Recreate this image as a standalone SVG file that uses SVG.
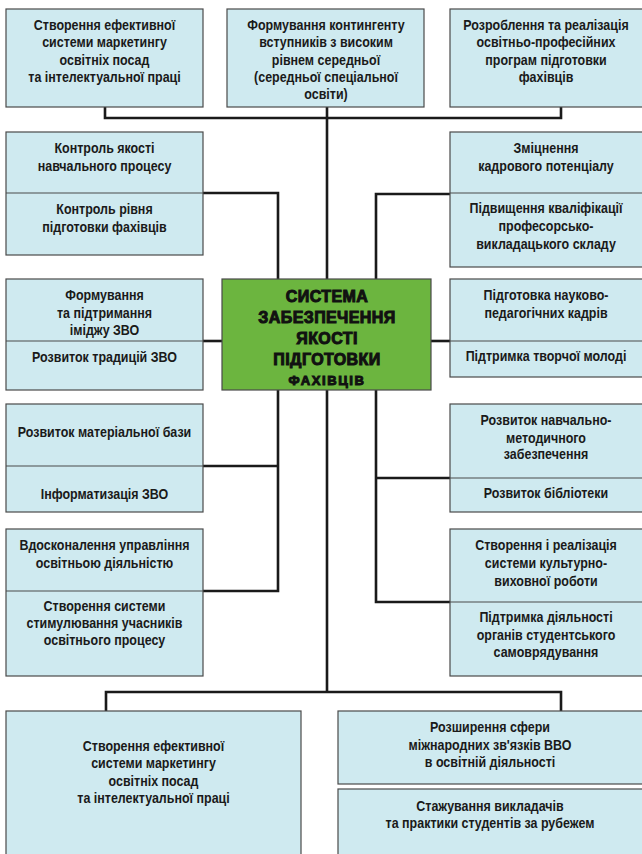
<svg xmlns="http://www.w3.org/2000/svg" width="642" height="854" viewBox="0 0 642 854">
<style>
.box{fill:#cfeaf0;stroke:#4a4a4a;stroke-width:1.2}
.div{stroke:#4a4a4a;stroke-width:1.2;fill:none}
.t{font-family:"Liberation Sans",Arial,sans-serif;font-weight:bold;font-size:14px;fill:#1a1a1a;text-anchor:middle}
.c{fill:none;stroke:#1a1a1a;stroke-width:2.6;stroke-linejoin:miter}
.core{fill:#6cb53f;stroke:#4a4a4a;stroke-width:1.2}
.ct{font-family:"Liberation Sans",Arial,sans-serif;font-weight:bold;font-size:16px;fill:#111;stroke:#111;stroke-width:1;text-anchor:middle;letter-spacing:0.4px}
</style>
<defs>
<clipPath id="coreclip"><rect x="222" y="279" width="209" height="110"/></clipPath>
</defs>
<g id="connectors">
<path class="c" d="M105 107V118H561V107"/>
<path class="c" d="M327 107V279"/>
<path class="c" d="M203 193H278V279"/>
<path class="c" d="M450 194H376V279"/>
<path class="c" d="M203 341H222"/>
<path class="c" d="M431 341H450"/>
<path class="c" d="M278 390V591H203"/>
<path class="c" d="M203 466H278"/>
<path class="c" d="M376 390V602H450"/>
<path class="c" d="M450 478H376"/>
<path class="c" d="M327 390V692"/>
<path class="c" d="M106 711V692H561V711"/>
</g>
<g id="top1">
<rect class="box" x="6" y="9" width="197" height="98"/>
<g transform="translate(104.5 0) scale(0.89 1)"><text class="t"><tspan x="0" y="30">Створення ефективної</tspan><tspan x="0" y="47.3">системи маркетингу</tspan><tspan x="0" y="64.6">освітніх посад</tspan><tspan x="0" y="82">та інтелектуальної праці</tspan></text></g>
</g>
<g id="top2">
<rect class="box" x="227" y="9" width="197" height="98"/>
<g transform="translate(326 0) scale(0.89 1)"><text class="t"><tspan x="0" y="30">Формування контингенту</tspan><tspan x="0" y="47.3">вступників з високим</tspan><tspan x="0" y="64.6">рівнем середньої</tspan><tspan x="0" y="82">(середньої спеціальної</tspan><tspan x="0" y="99">освіти)</tspan></text></g>
</g>
<g id="top3">
<rect class="box" x="450" y="9" width="196" height="98"/>
<g transform="translate(546 0) scale(0.89 1)"><text class="t"><tspan x="0" y="30">Розроблення та реалізація</tspan><tspan x="0" y="47.3">освітньо-професійних</tspan><tspan x="0" y="64.6">програм підготовки</tspan><tspan x="0" y="82">фахівців</tspan></text></g>
</g>
<g id="left1">
<rect class="box" x="6" y="132" width="197" height="123"/>
<path class="div" d="M6 193H203"/>
<g transform="translate(104.5 0) scale(0.89 1)"><text class="t"><tspan x="0" y="153">Контроль якості</tspan><tspan x="0" y="171">навчального процесу</tspan></text>
<text class="t"><tspan x="0" y="214">Контроль рівня</tspan><tspan x="0" y="232">підготовки фахівців</tspan></text></g>
</g>
<g id="right1">
<rect class="box" x="450" y="132" width="196" height="135"/>
<path class="div" d="M450 193H642"/>
<g transform="translate(546 0) scale(0.89 1)"><text class="t"><tspan x="0" y="153">Зміцнення</tspan><tspan x="0" y="171.5">кадрового потенціалу</tspan></text>
<text class="t"><tspan x="0" y="213">Підвищення кваліфікації</tspan><tspan x="0" y="231">професорсько-</tspan><tspan x="0" y="249">викладацького складу</tspan></text></g>
</g>
<g id="left2">
<rect class="box" x="6" y="279" width="197" height="111"/>
<path class="div" d="M6 341H203"/>
<g transform="translate(104.5 0) scale(0.89 1)"><text class="t"><tspan x="0" y="300">Формування</tspan><tspan x="0" y="318">та підтримання</tspan><tspan x="0" y="335">іміджу ЗВО</tspan></text>
<text class="t"><tspan x="0" y="362">Розвиток традицій ЗВО</tspan></text></g>
</g>
<g id="core">
<rect class="core" x="222" y="279" width="209" height="111"/>
<g clip-path="url(#coreclip)">
<text class="ct"><tspan x="327" y="302">СИСТЕМА</tspan><tspan x="327" y="323">ЗАБЕЗПЕЧЕННЯ</tspan><tspan x="327" y="344">ЯКОСТІ</tspan><tspan x="327" y="365">ПІДГОТОВКИ</tspan><tspan x="327" y="385" style="font-size:13px;letter-spacing:1.6px">ФАХІВЦІВ</tspan></text>
</g>
</g>
<g id="right2">
<rect class="box" x="450" y="279" width="196" height="98"/>
<path class="div" d="M450 341H642"/>
<g transform="translate(546 0) scale(0.89 1)"><text class="t"><tspan x="0" y="300">Підготовка науково-</tspan><tspan x="0" y="318">педагогічних кадрів</tspan></text>
<text class="t"><tspan x="0" y="361">Підтримка творчої молоді</tspan></text></g>
</g>
<g id="left3">
<rect class="box" x="6" y="404" width="197" height="108"/>
<path class="div" d="M6 466H203"/>
<g transform="translate(104.5 0) scale(0.89 1)"><text class="t"><tspan x="0" y="437">Розвиток матеріальної бази</tspan></text>
<text class="t"><tspan x="0" y="499">Інформатизація ЗВО</tspan></text></g>
</g>
<g id="right3">
<rect class="box" x="450" y="404" width="196" height="108"/>
<path class="div" d="M450 478H642"/>
<g transform="translate(546 0) scale(0.89 1)"><text class="t"><tspan x="0" y="425">Розвиток навчально-</tspan><tspan x="0" y="443">методичного</tspan><tspan x="0" y="459">забезпечення</tspan></text>
<text class="t"><tspan x="0" y="498">Розвиток бібліотеки</tspan></text></g>
</g>
<g id="left4">
<rect class="box" x="6" y="529" width="197" height="147"/>
<path class="div" d="M6 591H203"/>
<g transform="translate(104.5 0) scale(0.89 1)"><text class="t"><tspan x="0" y="550">Вдосконалення управління</tspan><tspan x="0" y="568">освітньою діяльністю</tspan></text>
<text class="t"><tspan x="0" y="611">Створення системи</tspan><tspan x="0" y="628">стимулювання учасників</tspan><tspan x="0" y="645">освітнього процесу</tspan></text></g>
</g>
<g id="right4">
<rect class="box" x="450" y="529" width="196" height="147"/>
<path class="div" d="M450 602H642"/>
<g transform="translate(546 0) scale(0.89 1)"><text class="t"><tspan x="0" y="550">Створення і реалізація</tspan><tspan x="0" y="568">системи культурно-</tspan><tspan x="0" y="586">виховної роботи</tspan></text>
<text class="t"><tspan x="0" y="622">Підтримка діяльності</tspan><tspan x="0" y="640">органів студентського</tspan><tspan x="0" y="657">самоврядування</tspan></text></g>
</g>
<g id="bottom1">
<rect class="box" x="6" y="711" width="295" height="150"/>
<g transform="translate(153.5 0) scale(0.89 1)"><text class="t"><tspan x="0" y="751">Створення ефективної</tspan><tspan x="0" y="768.5">системи маркетингу</tspan><tspan x="0" y="786">освітніх посад</tspan><tspan x="0" y="803">та інтелектуальної праці</tspan></text></g>
</g>
<g id="bottom2">
<rect class="box" x="338" y="711" width="308" height="73"/>
<g transform="translate(490 0) scale(0.89 1)"><text class="t"><tspan x="0" y="732">Розширення сфери</tspan><tspan x="0" y="750">міжнародних зв'язків ВВО</tspan><tspan x="0" y="767.5">в освітній діяльності</tspan></text></g>
</g>
<g id="bottom3">
<rect class="box" x="338" y="789" width="308" height="73"/>
<g transform="translate(490 0) scale(0.89 1)"><text class="t"><tspan x="0" y="811">Стажування викладачів</tspan><tspan x="0" y="828">та практики студентів за рубежем</tspan></text></g>
</g>
</svg>
